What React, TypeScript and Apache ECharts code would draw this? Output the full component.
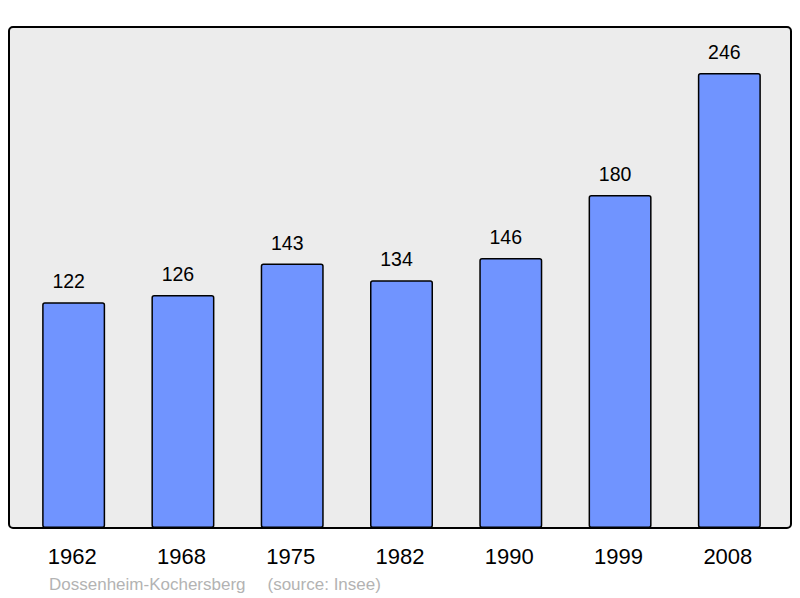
import React, { useEffect, useRef } from "react";
import * as echarts from "echarts";

const years = ["1962", "1968", "1975", "1982", "1990", "1999", "2008"];
const population = [122, 126, 143, 134, 146, 180, 246];
const footerName = "Dossenheim-Kochersberg";
const footerSource = "(source: Insee)";

export default function App() {
  const ref = useRef<HTMLDivElement>(null);
  useEffect(() => {
    document.body.style.margin = "0";
    const chart = echarts.init(ref.current!, null, { renderer: "svg" });
    const font = "Liberation Sans, Arial, sans-serif";
    chart.setOption({
      animation: false,
      textStyle: { fontFamily: font },
      graphic: [
        {
          type: "rect",
          z: -10,
          shape: { x: 9, y: 27, width: 782, height: 501, r: 4 },
          style: { fill: "#ececec", stroke: "#000", lineWidth: 2 },
        },
        {
          type: "text",
          x: 49,
          y: 584.5,
          style: {
            text: footerName,
            fill: "#b3b3b3",
            font: "17px " + font,
            verticalAlign: "middle",
          },
        },
        {
          type: "text",
          x: 267.5,
          y: 584.5,
          style: {
            text: footerSource,
            fill: "#b3b3b3",
            font: "17px " + font,
            verticalAlign: "middle",
          },
        },
      ],
      grid: { left: 19, top: 73, width: 765, height: 455, containLabel: false },
      xAxis: {
        type: "category",
        data: years,
        axisLine: { show: false },
        axisTick: { show: false },
        axisLabel: { color: "#000", fontSize: 22, margin: 17, padding: [0, 3, 0, 0] },
      },
      yAxis: {
        type: "value",
        min: 0,
        max: 246,
        show: false,
        splitLine: { show: false },
      },
      series: [
        {
          type: "bar",
          data: population,
          barWidth: 63,
          itemStyle: {
            color: "#7094ff",
            borderColor: "#000",
            borderWidth: 1.5,
            borderRadius: 2,
          },
          label: {
            show: true,
            position: "top",
            distance: 11,
            offset: [-5, 0],
            color: "#000",
            fontSize: 19.5,
          },
        },
      ],
    });
    return () => chart.dispose();
  }, []);
  return <div ref={ref} style={{ width: 800, height: 598 }} />;
}
